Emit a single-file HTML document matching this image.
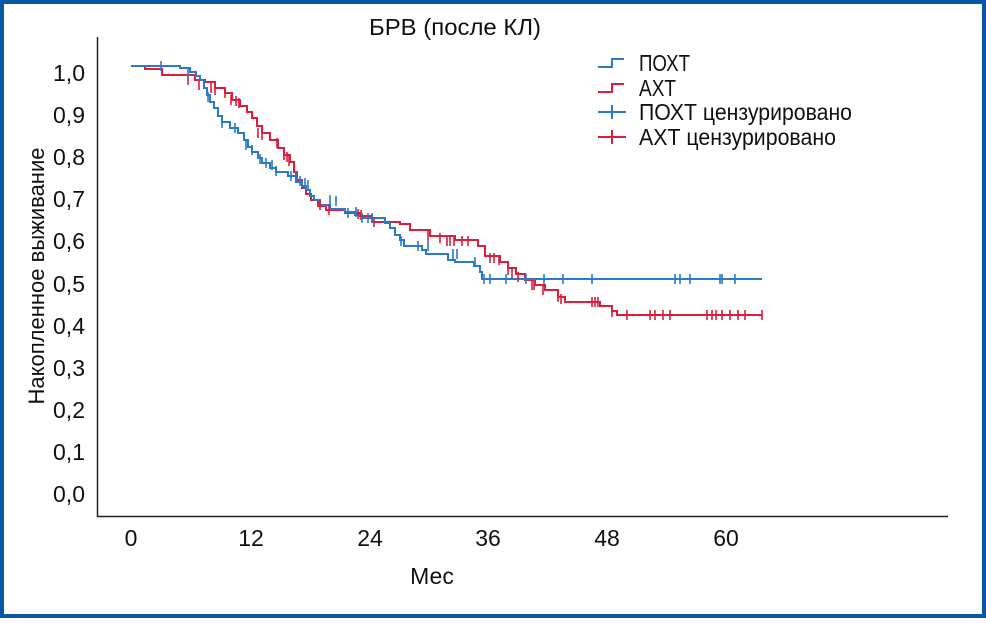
<!DOCTYPE html>
<html><head><meta charset="utf-8"><style>
html,body{margin:0;padding:0;background:#fff}
svg text{font-family:"Liberation Sans Narrow","Liberation Sans",sans-serif;fill:#111}
</style></head><body>
<svg width="986" height="618" viewBox="0 0 986 618" xmlns="http://www.w3.org/2000/svg">
<rect x="2" y="2" width="982" height="614" fill="#fff" stroke="#0a57a6" stroke-width="4"/>
<text x="455" y="35" font-size="23" text-anchor="middle" textLength="172" lengthAdjust="spacingAndGlyphs">БРВ (после КЛ)</text>
<path d="M97.5 37 V516.5 H948" fill="none" stroke="#222" stroke-width="1.5"/>
<g font-size="23" text-anchor="end">
<text x="85" y="81">1,0</text><text x="85" y="123">0,9</text><text x="85" y="165">0,8</text><text x="85" y="207">0,7</text><text x="85" y="249">0,6</text><text x="85" y="292">0,5</text><text x="85" y="334">0,4</text><text x="85" y="376">0,3</text><text x="85" y="418">0,2</text><text x="85" y="460">0,1</text><text x="85" y="502">0,0</text>
</g>
<g font-size="23" text-anchor="middle">
<text x="131" y="546">0</text><text x="251" y="546">12</text><text x="370" y="546">24</text><text x="488" y="546">36</text><text x="607" y="546">48</text><text x="726" y="546">60</text>
<text x="432" y="584">Мес</text>
</g>
<text transform="translate(44,276) rotate(-90)" font-size="22" text-anchor="middle">Накопленное выживание</text>
<path fill="none" stroke="#dc1e3c" stroke-width="2" d="M131 66 H145 V69 H162 V75 H195 V80 H205 V82 H215 V88 H225 V93 H232 V100 H240 V106 H247 V112 H252 V118 H257 V126 H262 V133 H270 V140 H278 V148 H284 V155 H290 V162 H294 V172 H297 V180 H302 V188 H306 V194 H311 V200 H318 V206 H326 V210 H345 V213 H360 V216 H372 V222 H400 V224 H410 V230 H430 V236 H455 V240 H478 V246 H485 V256 H500 V262 H508 V268 H516 V274 H525 V280 H535 V285 H545 V290 H558 V297 H565 V302 H600 V306 H612 V311 H617 V315 H762"/>
<path fill="none" stroke="#2b7ac8" stroke-width="2" d="M131 66 H180 V68 H190 V72 H196 V76 H200 V80 H204 V88 H207 V95 H210 V102 H214 V108 H218 V116 H222 V122 H230 V128 H238 V133 H244 V140 H248 V147 H252 V152 H258 V158 H262 V163 H270 V168 H276 V172 H288 V176 H296 V182 H302 V186 H306 V190 H310 V196 H314 V200 H320 V205 H330 V209 H345 V212 H355 V215 H362 V218 H385 V223 H390 V228 H395 V235 H400 V240 H404 V246 H422 V250 H426 V254 H448 V260 H455 V262 H474 V266 H480 V272 H482 V279 H762"/>
<g stroke="#dc1e3c" stroke-width="1.6">
<path d="M188 75v10M199 80v10M211 83v10M215 85v10M225 88v10M231 95v10M236 96v10M239 98v10M258 128v10M262 130v10M277 138v10M284 150v10M287 152v10M289 156v10M296 172v10M320 200v10M329 205v10M358 209v10M361 210v10M374 217v10M428 231v10M440 233v10M447 236v10M450 236v10M454 236v10M462 236v10M468 236v10M490 253v10M494 253v10M499 255v10M508 265v10M512 268v10M518 272v10M532 280v10M534 280v10M543 285v10M558 292v10M561 294v10M592 297v10M595 297v10M598 297v10M612 307v10M627 310v10M650 310v10M655 310v10M663 310v10M670 310v10M707 310v10M712 310v10M716 310v10M722 310v10M730 310v10M738 310v10M745 310v10M762 310v10"/>
</g>
<g stroke="#2b7ac8" stroke-width="1.6">
<path d="M161 61v10M188 68v10M208 92v10M222 118v10M235 123v10M246 140v10M252 145v10M260 154v10M266 158v10M272 160v10M276 166v10M291 171v10M296 171v10M300 176v10M305 178v10M308 180v10M330 195v10M336 196v10M348 208v10M356 207v10M362 213v10M368 213v10M372 213v10M401 236v10M418 241v10M428 241v10M453 249v10M457 249v10M475 257v10M484 274v10M490 274v10M506 274v10M526 274v10M544 274v10M563 274v10M592 274v10M675 274v10M680 274v10M690 274v10M720 274v10M722 274v10M735 274v10"/>
</g>
<path d="M598 67 H612 V59 H624" fill="none" stroke="#2b7ac8" stroke-width="2"/>
<path d="M598 92 H612 V84 H624" fill="none" stroke="#dc1e3c" stroke-width="2"/>
<path d="M598 112 H626 M612 105 V119" stroke="#2b7ac8" stroke-width="2"/>
<path d="M598 137 H626 M612 130 V144" stroke="#dc1e3c" stroke-width="2"/>
<g font-size="23">
<text x="639" y="71" textLength="51" lengthAdjust="spacingAndGlyphs">ПОХТ</text>
<text x="639" y="96" textLength="37" lengthAdjust="spacingAndGlyphs">АХТ</text>
<text x="639" y="120" textLength="213" lengthAdjust="spacingAndGlyphs">ПОХТ цензурировано</text>
<text x="639" y="145" textLength="197" lengthAdjust="spacingAndGlyphs">АХТ цензурировано</text>
</g>
</svg>
</body></html>
